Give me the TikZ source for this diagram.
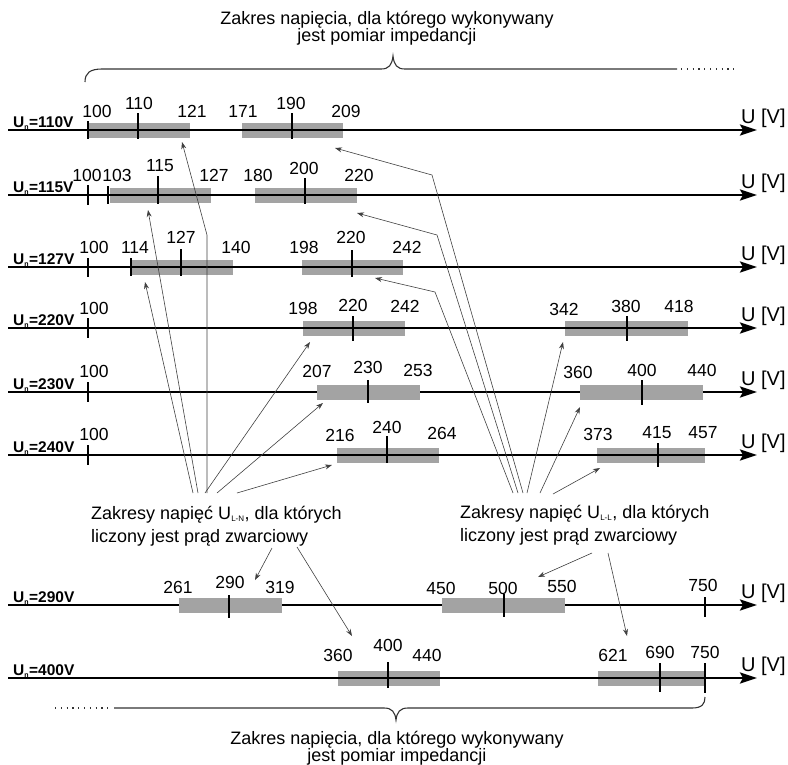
\documentclass[tikz,border=0pt]{standalone}
\usepackage{fontspec}
\setmainfont{Liberation Sans}
\usetikzlibrary{arrows.meta}
\definecolor{barfill}{gray}{0.64}
\definecolor{conncol}{gray}{0.25}
\definecolor{bracecol}{gray}{0.2}
\tikzset{
  axisline/.style={line width=2.4pt,-{Stealth[length=17pt,width=11pt,inset=3pt]}},
  tickline/.style={line width=1.3pt},
  barbox/.style={fill=barfill,draw=none},
  numlbl/.style={inner sep=0pt,font=\fontsize{17.5}{17.5}\selectfont},
  unlbl/.style={inner sep=0pt,anchor=base west,font=\fontsize{15.5}{15.5}\selectfont\bfseries},
  uvlbl/.style={inner sep=0pt,anchor=base west,font=\fontsize{20}{20}\selectfont},
  textlbl/.style={inner sep=0pt,font=\fontsize{18}{23}\selectfont},
  conn/.style={draw=conncol,line width=0.6pt,-{Stealth[length=7pt,width=5pt]}},
  bracepath/.style={draw=bracecol,line width=1.1pt},
  bracedots/.style={draw=bracecol,line width=1.1pt,dash pattern=on 1.2pt off 4.6pt}
}
\newcommand\myaxis[3]{%
  \draw[axisline] (8,#2) coordinate (#1s) -- (757,#2) coordinate (#1e);
  \node[unlbl] (#1l) at (13,#2-3) {U\textsubscript{\fontsize{7}{7}\selectfont n}=#3V};
  \node[uvlbl] (#1u) at (741,#2-7) {U [V]};
}
\newcommand\mybar[3]{\fill[barbox] (#1,#3-7.5) rectangle (#2,#3+7.5);}
\newcommand\mytick[4]{\draw[tickline] (#1,#2-#3) -- (#1,#2+#4);}
\newcommand\myval[4]{\node[numlbl] (#1) at (#2,#3) {#4};}
\begin{document}
\begin{tikzpicture}[x=1pt,y=-1pt]
\useasboundingbox (0,0) rectangle (788,764);
% bars under the axis line
\mybar{88}{190}{130}\mybar{242}{343}{130}
\mybar{110}{211}{195}\mybar{255}{357}{195}
\mybar{130}{233}{267}\mybar{302}{403}{267}
\mybar{303}{405}{328}\mybar{565}{688}{328}
\mybar{337}{439}{455}\mybar{597}{705}{455}
\mybar{338}{440}{678}\mybar{598}{705}{678}
% axes
\myaxis{ra}{130}{110}
\myaxis{rb}{195}{115}
\myaxis{rc}{267}{127}
\myaxis{rd}{328}{220}
\myaxis{re}{392}{230}
\myaxis{rf}{455}{240}
\myaxis{rg}{605}{290}
\myaxis{rh}{678}{400}
% bars over the axis line
\mybar{317}{420}{392}\mybar{580}{703}{392}
\mybar{179}{282}{605}\mybar{442}{565}{605}
% ticks
\mytick{88}{130}{9}{9}\mytick{138}{130}{17}{9}\mytick{292}{130}{17}{9}
\mytick{88}{195}{10}{10}\mytick{108}{195}{9}{9}\mytick{158}{195}{19}{9}\mytick{305}{195}{17}{9}
\mytick{88}{267}{9}{10}\mytick{131}{267}{9}{9}\mytick{181}{267}{18}{9}\mytick{352}{267}{17}{10}
\mytick{88}{328}{10}{10}\mytick{353}{328}{12}{13}\mytick{627}{328}{12}{13}
\mytick{88}{392}{10}{10}\mytick{368}{392}{12}{11}\mytick{642}{392}{12}{13}
\mytick{88}{455}{10}{10}\mytick{387}{455}{19}{8}\mytick{658}{455}{12}{12}
\mytick{229}{605}{10}{13}\mytick{504}{605}{11}{12}\mytick{705}{605}{8}{12}
\mytick{388}{678}{16}{10}\mytick{660}{678}{15}{14}\mytick{705}{678}{15}{15}
% value labels
\myval{va1}{97}{111}{100}\myval{va2}{139}{103}{110}\myval{va3}{192}{111}{121}
\myval{va4}{243}{111}{171}\myval{va5}{291}{103}{190}\myval{va6}{346}{111}{209}
\myval{vb1}{87}{175}{100}\myval{vb2}{117}{175}{103}\myval{vb3}{160}{166}{115}
\myval{vb4}{214}{175}{127}\myval{vb5}{258}{175}{180}\myval{vb6}{304}{168}{200}\myval{vb7}{359}{175}{220}
\myval{vc1}{94}{247}{100}\myval{vc2}{135}{247}{114}\myval{vc3}{181}{237}{127}
\myval{vc4}{236}{247}{140}\myval{vc5}{304}{247}{198}\myval{vc6}{351}{237}{220}\myval{vc7}{407}{247}{242}
\myval{vd1}{94}{308}{100}\myval{vd2}{303}{308}{198}\myval{vd3}{353}{305}{220}
\myval{vd4}{405}{306}{242}\myval{vd5}{564}{309}{342}\myval{vd6}{626}{306}{380}\myval{vd7}{679}{306}{418}
\myval{ve1}{94}{371}{100}\myval{ve2}{317}{371}{207}\myval{ve3}{368}{367}{230}
\myval{ve4}{418}{370}{253}\myval{ve5}{578}{372}{360}\myval{ve6}{642}{370}{400}\myval{ve7}{702}{370}{440}
\myval{vf1}{94}{434}{100}\myval{vf2}{340}{435}{216}\myval{vf3}{387}{427}{240}
\myval{vf4}{442}{433}{264}\myval{vf5}{598}{434}{373}\myval{vf6}{657}{433}{415}\myval{vf7}{703}{433}{457}
\myval{vg1}{178}{587}{261}\myval{vg2}{230}{582}{290}\myval{vg3}{280}{587}{319}
\myval{vg4}{441}{588}{450}\myval{vg5}{503}{588}{500}\myval{vg6}{562}{586}{550}\myval{vg7}{703}{585}{750}
\myval{vh1}{338}{655}{360}\myval{vh2}{388}{645}{400}\myval{vh3}{427}{655}{440}
\myval{vh4}{613}{655}{621}\myval{vh5}{660}{652}{690}\myval{vh6}{705}{652}{750}
% braces and their texts
\node[textlbl,align=center,font=\fontsize{18}{17}\selectfont] (toptxt) at (387,28)
  {Zakres napięcia, dla którego wykonywany\\jest pomiar impedancji};
\draw[bracepath] (85,82) .. controls (85,73) and (90,69) .. (102,69) -- (381,69)
  .. controls (389,69) and (392,65) .. (393,56) .. controls (394,65) and (397,69) .. (405,69) -- (677,69);
\draw[bracedots] (681,69) -- (735,69);
\node[textlbl,align=center,font=\fontsize{18}{17}\selectfont] (bottxt) at (397,748)
  {Zakres napięcia, dla którego wykonywany\\jest pomiar impedancji};
\draw[bracedots] (55,708) -- (110,708);
\draw[bracepath] (114,708) -- (384,708) .. controls (392,708) and (395,712) .. (396,720)
  .. controls (397,712) and (400,708) .. (408,708) -- (692,708)
  .. controls (702,708) and (705,704) .. (705,697);
% group labels
\node[textlbl,anchor=west,align=left] (lnlbl) at (91,526)
  {Zakresy napięć U\textsubscript{\fontsize{8}{8}\selectfont L-N}, dla których\\liczony jest prąd zwarciowy};
\node[textlbl,anchor=west,align=left] (lllbl) at (460,525)
  {Zakresy napięć U\textsubscript{\fontsize{8}{8}\selectfont L-L}, dla których\\liczony jest prąd zwarciowy};
% L-N connectors
\coordinate (ns1) at (207,493); \coordinate (nk1) at (207,235); \coordinate (nt1) at (182,142);
\coordinate (ns2) at (198,493); \coordinate (nt2) at (148,210);
\coordinate (ns3) at (193,493); \coordinate (nt3) at (145,282);
\coordinate (ns4) at (205,493); \coordinate (nt4) at (310,342);
\coordinate (ns5) at (217,493); \coordinate (nt5) at (323,403);
\coordinate (ns6) at (237,493); \coordinate (nt6) at (332,465);
\coordinate (ns7) at (272,548); \coordinate (nt7) at (255,580);
\coordinate (ns8) at (297,547); \coordinate (nt8) at (352,636);
\draw[conn] (ns1) -- (nk1) -- (nt1);
\draw[conn] (ns2) -- (nt2);
\draw[conn] (ns3) -- (nt3);
\draw[conn] (ns4) -- (nt4);
\draw[conn] (ns5) -- (nt5);
\draw[conn] (ns6) -- (nt6);
\draw[conn] (ns7) -- (nt7);
\draw[conn] (ns8) -- (nt8);
% L-L connectors
\coordinate (ls1) at (523,493); \coordinate (lk1) at (432,175); \coordinate (lt1) at (335,148);
\coordinate (ls2) at (518,493); \coordinate (lk2) at (437,235); \coordinate (lt2) at (357,213);
\coordinate (ls3) at (513,493); \coordinate (lk3) at (435,292); \coordinate (lt3) at (375,278);
\coordinate (ls4) at (527,493); \coordinate (lt4) at (563,342);
\coordinate (ls5) at (540,493); \coordinate (lt5) at (580,407);
\coordinate (ls6) at (553,494); \coordinate (lt6) at (600,468);
\coordinate (ls7) at (592,553); \coordinate (lt7) at (538,577);
\coordinate (ls8) at (608,553); \coordinate (lt8) at (627,636);
\draw[conn] (ls1) -- (lk1) -- (lt1);
\draw[conn] (ls2) -- (lk2) -- (lt2);
\draw[conn] (ls3) -- (lk3) -- (lt3);
\draw[conn] (ls4) -- (lt4);
\draw[conn] (ls5) -- (lt5);
\draw[conn] (ls6) -- (lt6);
\draw[conn] (ls7) -- (lt7);
\draw[conn] (ls8) -- (lt8);
\end{tikzpicture}
\end{document}
